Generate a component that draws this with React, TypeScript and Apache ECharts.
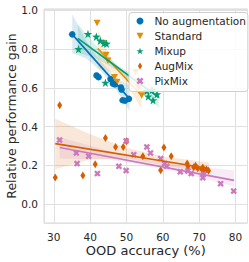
import React, { useEffect, useRef } from "react";
import * as echarts from "echarts";

const seriesNames = ["No augmentation", "Standard", "Mixup", "AugMix", "PixMix"];
const colors = ["#0173b2", "#de8f05", "#029e73", "#d55e00", "#cc78bc"];

const noAugPoints = [
  [35.07, 0.876], [41.76, 0.664], [42.31, 0.655], [45.6, 0.645], [46.25, 0.622],
  [46.8, 0.617], [48.46, 0.602], [48.65, 0.591], [48.93, 0.536], [49.57, 0.533], [50.67, 0.543],
];
const standardPoints = [
  [41.9, 0.935], [43.8, 0.83], [44.4, 0.77], [44.9, 0.74], [46.7, 0.655],
  [47.4, 0.63], [52.5, 0.68], [53.4, 0.6], [54.2, 0.56],
];
const mixupPoints = [
  [36.8, 0.8], [39.4, 0.878], [41.7, 0.864], [42.8, 0.843], [43.8, 0.83], [44.5, 0.828],
  [44.2, 0.626], [55.6, 0.584], [56.0, 0.555], [57.0, 0.588], [57.3, 0.536], [58.4, 0.567],
];
const augmixPoints = [
  [30.4, 0.137], [31.6, 0.51], [38.0, 0.147], [41.4, 0.205], [44.2, 0.341], [47.0, 0.295],
  [49.1, 0.295], [50.0, 0.324], [54.5, 0.247], [59.4, 0.174], [60.3, 0.292], [62.3, 0.247],
  [66.7, 0.209], [66.9, 0.195], [68.5, 0.19], [69.0, 0.198], [69.6, 0.185], [70.7, 0.18],
  [71.0, 0.188], [71.3, 0.165], [72.0, 0.178], [72.6, 0.172],
];
const pixmixPoints = [
  [31.6, 0.33], [36.2, 0.264], [36.4, 0.209], [39.6, 0.247], [42.0, 0.157], [47.9, 0.195],
  [49.9, 0.173], [49.9, 0.326], [52.0, 0.255], [55.6, 0.295], [56.6, 0.264], [59.4, 0.235],
  [60.5, 0.209], [61.1, 0.195], [64.8, 0.166], [66.9, 0.171], [67.8, 0.157], [71.0, 0.136],
  [71.2, 0.154], [75.9, 0.105], [79.5, 0.067],
];

// regression line endpoints [x, y]
const noAugFit = [[35.07, 0.876], [50.85, 0.543]];
const standardFit = [[42.1, 0.803], [54.1, 0.562]];
const mixupFit = [[36.6, 0.855], [58.9, 0.55]];
const augmixFit = [[30.4, 0.312], [72.7, 0.183]];
const pixmixFit = [[31.6, 0.292], [79.6, 0.122]];

// confidence bands [x, lower, upper]
const noAugBand = [[35.07, 0.78, 0.98], [39, 0.75, 0.84], [43, 0.685, 0.735], [47, 0.595, 0.655], [50.85, 0.48, 0.61]];
const standardBand = [[42.1, 0.7, 0.9], [46, 0.68, 0.74], [48.5, 0.65, 0.69], [51, 0.59, 0.65], [54.1, 0.49, 0.63]];
const mixupBand = [[36.6, 0.78, 0.93], [42, 0.75, 0.81], [47.7, 0.685, 0.715], [53, 0.6, 0.655], [58.9, 0.5, 0.6]];
const augmixBand = [[30.4, 0.18, 0.44], [40, 0.23, 0.36], [50, 0.235, 0.29], [60, 0.2, 0.245], [72.7, 0.16, 0.215]];
const pixmixBand = [[31.6, 0.235, 0.345], [45, 0.23, 0.275], [55, 0.2, 0.23], [65, 0.16, 0.2], [79.6, 0.09, 0.175]];

const xTicks = [30, 40, 50, 60, 70, 80];
const yTicks = [0.0, 0.2, 0.4, 0.6, 0.8, 1.0];

const STAR = "path://M0,-10 L2.35,-3.24 L9.51,-3.09 L3.8,1.24 L5.88,8.09 L0,4 L-5.88,8.09 L-3.8,1.24 L-9.51,-3.09 L-2.35,-3.24 Z";
const XMARK = "path://M-1,-2 L0,-1 L1,-2 L2,-1 L1,0 L2,1 L1,2 L0,1 L-1,2 L-2,1 L-1,0 L-2,-1 Z";
const DOWN_TRI = "path://M0,0 L10,0 L5,9 Z";
const THIN_DIAMOND = "path://M3,0 L6,5 L3,10 L0,5 Z";

const FONT = "DejaVu Sans";

export default function App() {
  const ref = useRef<HTMLDivElement>(null);
  useEffect(() => {
    const chart = echarts.init(ref.current!, null, { renderer: "svg" });
    const groups = [
      { pts: noAugPoints, fit: noAugFit, band: noAugBand, symbol: "circle", size: 6.5, icon: "circle" },
      { pts: standardPoints, fit: standardFit, band: standardBand, symbol: DOWN_TRI, size: [7, 6.5], icon: DOWN_TRI },
      { pts: mixupPoints, fit: mixupFit, band: mixupBand, symbol: STAR, size: 8.5, icon: STAR },
      { pts: augmixPoints, fit: augmixFit, band: augmixBand, symbol: THIN_DIAMOND, size: [5, 8], icon: THIN_DIAMOND },
      { pts: pixmixPoints, fit: pixmixFit, band: pixmixBand, symbol: XMARK, size: 6.5, icon: XMARK },
    ];
    const series: any[] = [];
    groups.forEach((g, i) => {
      const color = colors[i];
      series.push({
        type: "scatter",
        name: seriesNames[i],
        data: g.pts,
        symbol: g.symbol,
        symbolSize: g.size,
        itemStyle: { color, opacity: 1 },
      });
      const band = g.band;
      series.push({
        type: "custom",
        name: seriesNames[i] + " band",
        silent: true,
        data: band,
        encode: { x: 0, y: [1, 2] },
        renderItem: (params: any, api: any) => {
          if (params.dataIndex !== 0) return null;
          const upper = band.map((b) => api.coord([b[0], b[2]]));
          const lower = band.map((b) => api.coord([b[0], b[1]])).reverse();
          return {
            type: "polygon",
            shape: { points: [...upper, ...lower] },
            style: { fill: color, opacity: 0.15 },
          };
        },
      });
      series.push({
        type: "line",
        name: seriesNames[i] + " fit",
        data: g.fit,
        symbol: "none",
        silent: true,
        lineStyle: { color, width: 1.6 },
      });
    });

    chart.setOption({
      animation: false,
      textStyle: { fontFamily: FONT },
      grid: {
        left: 44, right: 1.5, top: 9, bottom: 39,
        containLabel: false,
        outerBoundsMode: "none",
        show: true, borderColor: "#d6d6d6", borderWidth: 1, backgroundColor: "#ffffff",
      },
      legend: {
        orient: "vertical",
        left: 129, top: 12.5,
        padding: [3, 2, 5, 7.5],
        itemWidth: 7, itemHeight: 7, itemGap: 4,
        backgroundColor: "rgba(255,255,255,0.85)",
        borderColor: "#d0d0d0", borderWidth: 1, borderRadius: 3,
        data: seriesNames.map((n, i) => ({ name: n, icon: groups[i].icon })),
        textStyle: { fontSize: 10.5, color: "#262626", fontFamily: FONT, lineHeight: 10, padding: [0, 0, 0, 6] },
      },
      xAxis: {
        type: "value",
        min: 27.3, max: 83.3,
        name: "OOD accuracy (%)",
        nameLocation: "middle",
        nameGap: 21,
        nameMoveOverlap: false,
        nameTextStyle: { fontSize: 13, color: "#262626", fontFamily: FONT },
        axisLine: { show: false },
        axisTick: { show: false },
        axisLabel: {
          fontSize: 10.5, color: "#262626", margin: 8, fontFamily: FONT,
          formatter: (v: number) => (xTicks.some((t) => Math.abs(t - v) < 1e-6) ? String(v) : ""),
        },
        splitLine: { show: true, lineStyle: { color: "#e0e0e0", width: 1 } },
      },
      yAxis: {
        type: "value",
        min: -0.098, max: 1.007,
        name: "Relative performance gain",
        nameLocation: "middle",
        nameGap: 26,
        nameMoveOverlap: false,
        nameTextStyle: { fontSize: 12.5, color: "#262626", fontFamily: FONT, lineHeight: 13 },
        axisLine: { show: false },
        axisTick: { show: false },
        axisLabel: {
          fontSize: 10.5, color: "#262626", margin: 6, fontFamily: FONT,
          formatter: (v: number) => {
            const t = yTicks.find((t) => Math.abs(t - v) < 1e-6);
            return t === undefined ? "" : t.toFixed(1);
          },
        },
        splitLine: { show: true, lineStyle: { color: "#e0e0e0", width: 1 } },
      },
      series,
    });
    return () => chart.dispose();
  }, []);
  return <div ref={ref} style={{ width: 249, height: 262, position: "absolute", left: 0, top: 0 }} />;
}
